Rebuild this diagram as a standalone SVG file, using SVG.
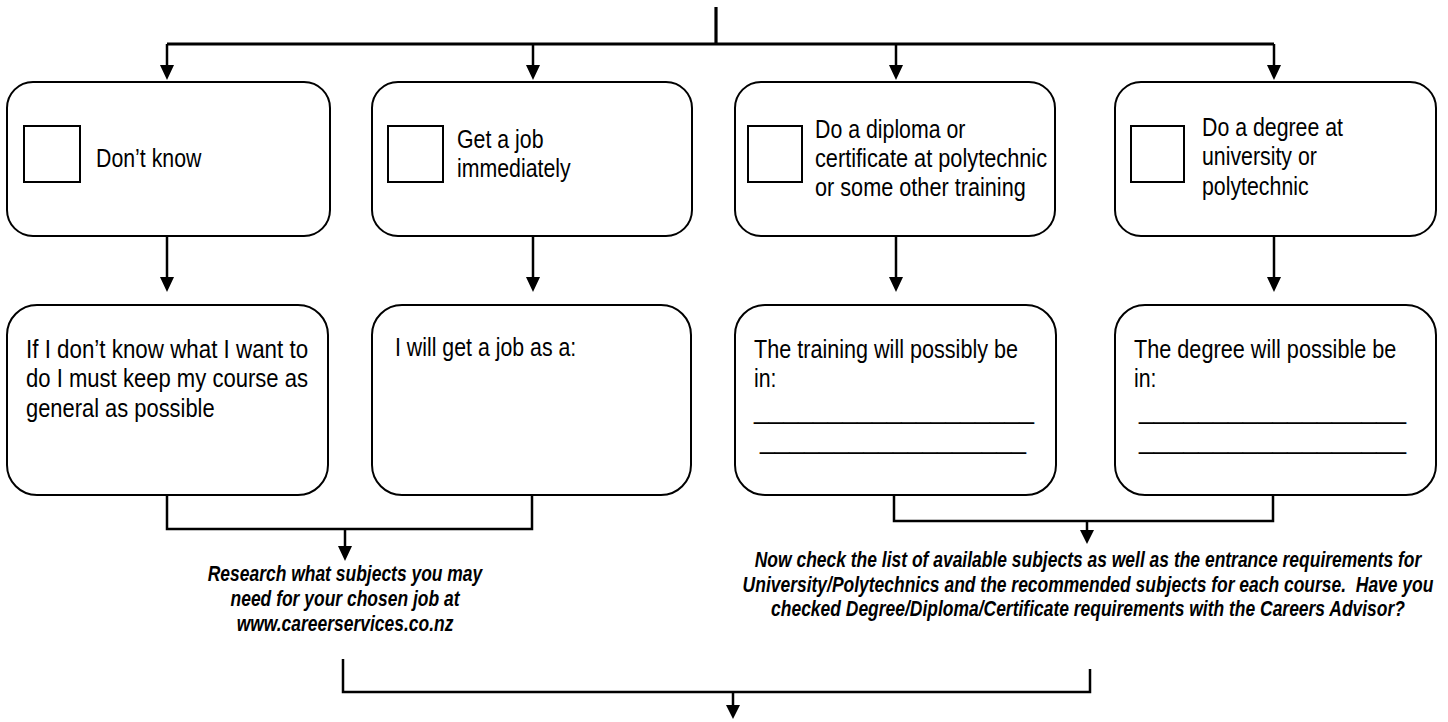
<svg xmlns="http://www.w3.org/2000/svg" width="1448" height="722" viewBox="0 0 1448 722">
<style>
.box{fill:#fff;stroke:#000;stroke-width:2}
.chk{fill:#fff;stroke:#000;stroke-width:2}
.t{font-family:"Liberation Sans",Arial,sans-serif;font-size:26px;fill:#000}
.u{font-family:"Liberation Sans",Arial,sans-serif;font-size:26px;fill:#000}
.n{font-family:"Liberation Sans",Arial,sans-serif;font-size:21.3px;font-style:italic;font-weight:bold;fill:#000;text-anchor:middle}
.c{fill:none;stroke:#000;stroke-width:2.5}
</style>
<rect width="1448" height="722" fill="#fff"/>
<g id="connectors">
<line class="c" x1="716" y1="7" x2="716" y2="44" style="stroke-width:3.2"/>
<line class="c" x1="167" y1="44" x2="1274" y2="44" style="stroke-width:3"/>
<path class="c" d="M167,44 V65"/><path d="M160,65 L174,65 L167,80 Z"/>
<path class="c" d="M533,44 V65"/><path d="M526,65 L540,65 L533,80 Z"/>
<path class="c" d="M896,44 V65"/><path d="M889,65 L903,65 L896,80 Z"/>
<path class="c" d="M1274,44 V65"/><path d="M1267,65 L1281,65 L1274,80 Z"/>
<path class="c" d="M167,236 V277"/><path d="M160,277 L174,277 L167,292 Z"/>
<path class="c" d="M533,236 V277"/><path d="M526,277 L540,277 L533,292 Z"/>
<path class="c" d="M896,236 V277"/><path d="M889,277 L903,277 L896,292 Z"/>
<path class="c" d="M1274,236 V277"/><path d="M1267,277 L1281,277 L1274,292 Z"/>
<path class="c" d="M167,495 V529 H532 V495"/>
<path class="c" d="M345,529 V546"/><path d="M338,546 L352,546 L345,561 Z"/>
<path class="c" d="M894,495 V521 H1273 V495"/>
<path class="c" d="M1087,521 V530"/><path d="M1080,530 L1094,530 L1087,544 Z"/>
<path class="c" d="M343,659 V692 H1090 V669"/>
<path class="c" d="M733,692 V705"/><path d="M726,705 L740,705 L733,719 Z"/>
</g>
<g id="n1">
<rect class="box" x="7" y="82" width="323" height="154" rx="26"/>
<rect class="chk" x="24" y="126" width="56" height="56"/>
<text class="t" transform="matrix(.82 0 0 1 96 167)">Don’t know</text>
</g>
<g id="n2">
<rect class="box" x="372" y="82" width="320" height="154" rx="26"/>
<rect class="chk" x="388" y="126" width="55" height="56"/>
<text class="t" transform="matrix(.82 0 0 1 457 148)">Get a job</text>
<text class="t" transform="matrix(.82 0 0 1 457 177)">immediately</text>
</g>
<g id="n3">
<rect class="box" x="735" y="82" width="320" height="154" rx="26"/>
<rect class="chk" x="748" y="126" width="54" height="56"/>
<text class="t" transform="matrix(.82 0 0 1 815 138)">Do a diploma or</text>
<text class="t" transform="matrix(.82 0 0 1 815 167)" textLength="283" lengthAdjust="spacingAndGlyphs">certificate at polytechnic</text>
<text class="t" transform="matrix(.82 0 0 1 815 196)" textLength="257" lengthAdjust="spacingAndGlyphs">or some other training</text>
</g>
<g id="n4">
<rect class="box" x="1115" y="82" width="321" height="154" rx="26"/>
<rect class="chk" x="1131" y="126" width="53" height="56"/>
<text class="t" transform="matrix(.82 0 0 1 1202 136)">Do a degree at</text>
<text class="t" transform="matrix(.82 0 0 1 1202 165)">university or</text>
<text class="t" transform="matrix(.82 0 0 1 1202 195)">polytechnic</text>
</g>
<g id="n5">
<rect class="box" x="7" y="305" width="321" height="190" rx="30"/>
<text class="t" transform="matrix(.82 0 0 1 26 358)" textLength="344" lengthAdjust="spacingAndGlyphs">If I don’t know what I want to</text>
<text class="t" transform="matrix(.82 0 0 1 26 387)" textLength="344" lengthAdjust="spacingAndGlyphs">do I must keep my course as</text>
<text class="t" transform="matrix(.82 0 0 1 26 417)" textLength="230" lengthAdjust="spacingAndGlyphs">general as possible</text>
</g>
<g id="n6">
<rect class="box" x="372" y="305" width="319" height="190" rx="30"/>
<text class="t" transform="matrix(.82 0 0 1 395 356)">I will get a job as a:</text>
</g>
<g id="n7">
<rect class="box" x="735" y="305" width="321" height="190" rx="30"/>
<text class="t" transform="matrix(.82 0 0 1 754 358)" textLength="322" lengthAdjust="spacingAndGlyphs">The training will possibly be</text>
<text class="t" transform="matrix(.82 0 0 1 754 387)">in:</text>
<text class="u" x="754" y="419" textLength="280" lengthAdjust="spacingAndGlyphs">___________________</text>
<text class="u" x="760" y="449" textLength="266" lengthAdjust="spacingAndGlyphs">__________________</text>
</g>
<g id="n8">
<rect class="box" x="1115" y="305" width="321" height="190" rx="30"/>
<text class="t" transform="matrix(.82 0 0 1 1134 358)" textLength="320" lengthAdjust="spacingAndGlyphs">The degree will possible be</text>
<text class="t" transform="matrix(.82 0 0 1 1134 387)">in:</text>
<text class="u" x="1139" y="419" textLength="267" lengthAdjust="spacingAndGlyphs">__________________</text>
<text class="u" x="1139" y="449" textLength="267" lengthAdjust="spacingAndGlyphs">__________________</text>
</g>
<g id="note1">
<text class="n" transform="matrix(.82 0 0 1 345 581)">Research what subjects you may</text>
<text class="n" transform="matrix(.82 0 0 1 345 606)">need for your chosen job at</text>
<text class="n" transform="matrix(.82 0 0 1 345 631)">www.careerservices.co.nz</text>
</g>
<g id="note2">
<text class="n" transform="matrix(.82 0 0 1 1088 567)">Now check the list of available subjects as well as the entrance requirements for</text>
<text class="n" transform="matrix(.82 0 0 1 1088 592)" xml:space="preserve">University/Polytechnics and the recommended subjects for each course.  Have you</text>
<text class="n" transform="matrix(.82 0 0 1 1088 616)">checked Degree/Diploma/Certificate requirements with the Careers Advisor?</text>
</g>
</svg>
